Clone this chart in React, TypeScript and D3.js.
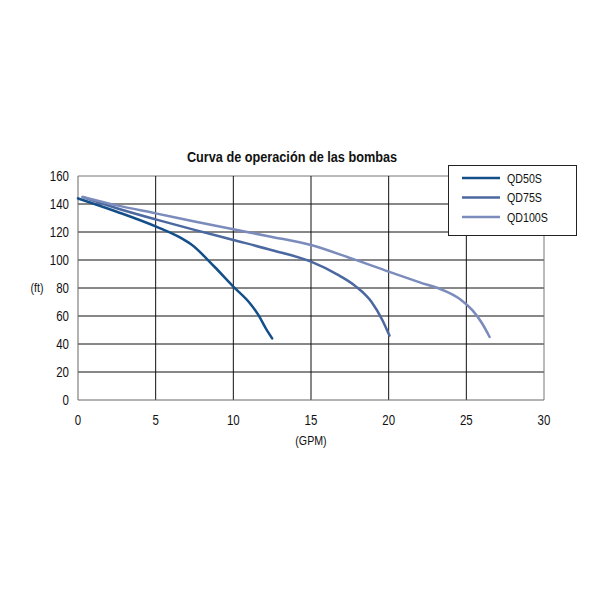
import React from "react";
import * as d3 from "d3";

const xTicks = [0, 5, 10, 15, 20, 25, 30];
const yTicks = [0, 20, 40, 60, 80, 100, 120, 140, 160];
const seriesNames = ["QD50S", "QD75S", "QD100S"];
const seriesColors = ["#144f8a", "#4b68a0", "#7b8cbc"];
const qd50s: [number, number][] = [
  [0, 144], [2.5, 134.5], [5, 124], [6.5, 116.5], [7.3, 111], [8.8, 95], [10, 81], [11, 70], [11.6, 61], [12.1, 51], [12.5, 44],
];
const qd75s: [number, number][] = [
  [0.3, 145], [2.5, 137], [5, 129], [7.5, 121.5], [10, 114.3], [12.5, 107], [15, 98.8], [16.8, 89], [17.9, 81], [18.9, 70], [19.6, 57], [20.05, 46],
];
const qd100s: [number, number][] = [
  [0.3, 145], [2.5, 139], [5, 133.3], [7.5, 127.5], [10, 121.9], [12.5, 116.5], [15, 110.7], [17.5, 101.5], [20, 91.7], [22, 84], [23.6, 78], [24.6, 72], [25.4, 64], [26.0, 55], [26.5, 45],
];
const seriesData = [qd50s, qd75s, qd100s];

const FONT = "'Liberation Sans', Arial, sans-serif";
const SX = 0.82;

function NText(props: { x: number; y: number; anchor?: string; size: number; bold?: boolean; children: React.ReactNode }) {
  const { x, y, anchor = "start", size, bold, children } = props;
  return (
    <text
      transform={`translate(${x},${y}) scale(${SX},1)`}
      textAnchor={anchor}
      fontFamily={FONT}
      fontSize={size}
      fontWeight={bold ? "bold" : "normal"}
      fill="#111"
    >
      {children}
    </text>
  );
}

export default function App() {
  const W = 600, H = 600;
  const x = d3.scaleLinear().domain([0, 30]).range([78, 544]);
  const y = d3.scaleLinear().domain([0, 160]).range([400, 176]);
  const line = d3.line<[number, number]>().x(d => x(d[0])).y(d => y(d[1])).curve(d3.curveMonotoneX);

  return (
    <svg width={W} height={H} style={{ position: "absolute", left: 0, top: 0, background: "#fff" }}>
      <rect x={0} y={0} width={W} height={H} fill="#fff" />
      <NText x={292} y={162} anchor="middle" size={15.5} bold>Curva de operación de las bombas</NText>
      {yTicks.map(t => (
        <g key={"y" + t}>
          {t > 0 && <line x1={x(0)} x2={x(30)} y1={y(t)} y2={y(t)} stroke={t === 160 ? "#777" : "#111"} strokeWidth={1} />}
          <NText x={69} y={y(t) + 4.5} anchor="end" size={14}>{t}</NText>
        </g>
      ))}
      {xTicks.map(t => (
        <g key={"x" + t}>
          {t > 0 && <line x1={x(t)} x2={x(t)} y1={y(0)} y2={y(160)} stroke={t === 30 ? "#777" : "#111"} strokeWidth={1} />}
          <NText x={x(t)} y={425} anchor="middle" size={14}>{t}</NText>
        </g>
      ))}
      <line x1={x(0)} x2={x(0)} y1={y(0)} y2={y(160)} stroke="#666" strokeWidth={1} />
      <line x1={x(0)} x2={x(30)} y1={y(0)} y2={y(0)} stroke="#666" strokeWidth={1} />
      <NText x={311} y={445} anchor="middle" size={13}>(GPM)</NText>
      <NText x={37} y={292} anchor="middle" size={13}>(ft)</NText>
      {seriesData.map((d, i) => (
        <path key={seriesNames[i]} d={line(d) || ""} fill="none" stroke={seriesColors[i]} strokeWidth={2.5} strokeLinecap="round" />
      ))}
      <rect x={448.5} y={165.5} width={128} height={70} fill="#fff" stroke="#222" strokeWidth={1} />
      {seriesNames.map((n, i) => (
        <g key={"lg" + n}>
          <line x1={462} x2={500} y1={178 + i * 19.5} y2={178 + i * 19.5} stroke={seriesColors[i]} strokeWidth={2.5} />
          <NText x={507} y={182.5 + i * 19.5} size={13}>{n}</NText>
        </g>
      ))}
    </svg>
  );
}
